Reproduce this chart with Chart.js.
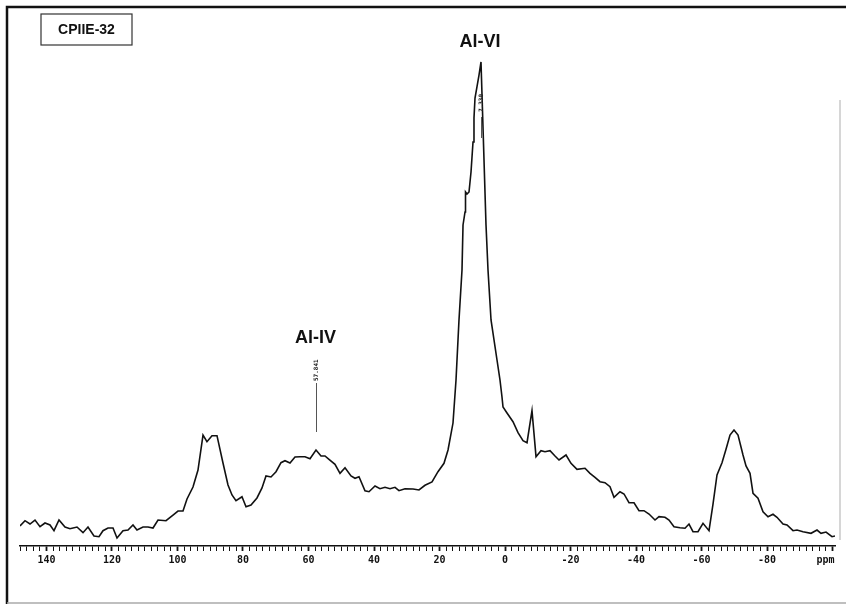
<!DOCTYPE html>
<html>
<head>
<meta charset="utf-8">
<script src="https://cdn.jsdelivr.net/npm/chart.js@4/dist/chart.umd.min.js"></script>
<style>
  html, body { margin: 0; padding: 0; background: #ffffff; }
  #wrap { width: 846px; height: 605px; position: relative; }
</style>
</head>
<body>
<div id="wrap"><canvas id="c" width="846" height="605"></canvas></div>
<script>
// Chemical shift (ppm) of each sampled point of the 27Al spectrum
const ppmValues = [
  148.09, 146.56, 145.04, 143.51, 141.98, 140.46, 138.93, 137.71, 136.18, 134.35,
  132.82, 130.69, 128.85, 127.33, 125.50, 123.97, 122.75, 121.22, 119.69, 118.47,
  116.64, 115.11, 113.59, 112.37, 110.53, 109.01, 107.48, 105.95, 103.51, 101.37,
  99.85, 98.32, 97.10, 95.27, 93.74, 92.21, 91.00, 89.47, 87.94, 86.11,
  84.58, 83.36, 82.14, 80.31, 79.08, 77.56, 75.73, 74.20, 72.98, 71.45,
  69.92, 68.40, 67.18, 65.65, 64.12, 62.60, 61.07, 59.54, 57.71, 56.18,
  54.96, 53.74, 51.91, 50.38, 48.85, 47.02, 45.80, 44.58, 42.75, 41.53,
  39.69, 38.17, 36.64, 35.11, 33.59, 32.37, 30.53, 28.09, 26.26, 24.43,
  22.29, 20.46, 18.63, 17.40, 15.88, 14.96, 14.05, 13.13, 12.82, 12.21,
  12.06, 11.60, 10.99, 10.38, 9.77, 9.47, 9.16, 8.55, 7.94, 7.33,
  5.80, 5.19, 4.27, 2.44, 1.53, 0.92, 0.61,
  -0.61, -2.44, -3.97, -5.50, -6.72, -8.24, -9.47, -10.99, -12.21, -13.74,
  -15.27, -16.49, -18.63, -20.15, -21.98, -24.43, -25.95, -27.48, -29.01, -30.53,
  -32.06, -33.28, -35.11, -36.34, -37.86, -39.39, -40.92, -42.44, -43.97, -45.80,
  -47.02, -48.85, -50.08, -51.60, -53.44, -54.96, -56.18, -57.40, -58.93, -60.46,
  -62.29, -63.51, -64.73, -66.26, -67.48, -68.70, -69.92, -71.15, -72.67, -73.59,
  -74.81, -75.73, -77.25, -78.78, -80.31, -81.83, -83.05, -84.89, -86.11, -87.94,
  -89.16, -90.99, -93.44, -95.27, -96.49, -98.02, -99.85, -100.76
];
// Signal intensity (arbitrary units) at each of those shifts
const intensityValues = [
  3.80, 4.81, 4.18, 4.94, 3.67, 4.37, 3.99, 2.91, 4.94, 3.61,
  3.29, 3.61, 2.53, 3.61, 1.90, 1.77, 2.91, 3.42, 3.42, 1.52,
  2.91, 3.04, 3.99, 3.04, 3.61, 3.61, 3.42, 4.94, 4.81, 5.89,
  6.65, 6.65, 8.94, 11.22, 14.45, 21.10, 19.83, 20.97, 20.97, 15.78,
  11.60, 9.70, 8.61, 9.37, 7.47, 7.79, 9.13, 11.03, 13.31, 13.12,
  14.13, 15.84, 16.22, 15.78, 16.92, 16.98, 16.98, 16.60, 18.25, 17.11,
  17.11, 16.48, 15.53, 13.82, 14.89, 13.31, 12.87, 13.17, 10.51, 10.32,
  11.41, 10.89, 11.16, 10.89, 11.16, 10.51, 10.89, 10.84, 10.65, 11.54,
  12.17, 14.13, 15.72, 18.25, 23.38, 31.56, 42.97, 52.47, 61.03, 63.50,
  67.30, 66.92, 67.30, 71.10, 76.81, 81.37, 85.17, 87.32, 89.54, 92.02,
  61.03, 52.47, 42.97, 35.36, 31.56, 28.33, 26.43,
  25.29, 23.63, 21.54, 20.02, 19.64, 25.72, 16.98, 18.12, 17.93, 18.12,
  17.11, 16.35, 17.30, 15.72, 14.58, 14.77, 13.82, 13.06, 12.22, 12.03,
  11.27, 9.26, 10.32, 9.89, 8.23, 8.23, 6.71, 6.71, 6.08, 4.94,
  5.57, 5.46, 4.94, 3.67, 3.48, 3.37, 4.18, 2.72, 2.72, 4.32,
  2.91, 7.98, 13.50, 15.84, 18.38, 21.10, 22.05, 21.10, 17.30, 15.21,
  13.82, 10.02, 9.07, 6.52, 5.57, 6.03, 5.46, 4.18, 3.99, 2.91,
  3.04, 2.72, 2.41, 3.04, 2.41, 2.66, 1.77, 1.90
];
// Axis and annotation texts
const axisMin = -100.76;
const axisMax = 148.09;
const majorStep = 20;
const minorStep = 2;
const axisUnit = 'ppm';
const sampleLabel = 'CPIIE-32';
const peakLabels = ['Al-VI', 'Al-IV'];
const peakLabelPpm = [7.63, 57.841];
const peakLabelHeight = [94.9, 38.6];
const markerPpm = [7.33, 57.841];
const markerTexts = ['7.330', '57.841'];

const points = ppmValues.map((x, i) => ({ x: x, y: intensityValues[i] }));

const decorPlugin = {
  id: 'decor',
  beforeDraw(chart) {
    const ctx = chart.ctx;
    ctx.save();
    ctx.fillStyle = '#ffffff';
    ctx.fillRect(0, 0, chart.width, chart.height);
    ctx.restore();
  },
  afterDraw(chart) {
    const ctx = chart.ctx;
    const xs = chart.scales.x, ys = chart.scales.y;
    ctx.save();
    // outer frame
    ctx.strokeStyle = '#111';
    ctx.lineWidth = 2.5;
    ctx.beginPath();
    ctx.moveTo(7, 604); ctx.lineTo(7, 7); ctx.lineTo(846, 7);
    ctx.stroke();
    ctx.strokeStyle = '#aaa';
    ctx.lineWidth = 1.5;
    ctx.beginPath();
    ctx.moveTo(7, 603); ctx.lineTo(846, 603);
    ctx.stroke();
    ctx.strokeStyle = '#c8c8c8';
    ctx.lineWidth = 1.5;
    ctx.beginPath();
    ctx.moveTo(840, 100); ctx.lineTo(840, 540);
    ctx.stroke();

    // sample label box
    ctx.strokeStyle = '#333';
    ctx.lineWidth = 1.2;
    ctx.strokeRect(41, 14, 91, 31);
    ctx.fillStyle = '#111';
    ctx.font = 'bold 14px "Liberation Sans", Arial, sans-serif';
    ctx.textAlign = 'center';
    ctx.textBaseline = 'middle';
    ctx.fillText(sampleLabel, 86.5, 30);

    // peak labels
    ctx.font = 'bold 18px "Liberation Sans", Arial, sans-serif';
    ctx.textBaseline = 'alphabetic';
    peakLabels.forEach((t, i) => {
      ctx.fillText(t, xs.getPixelForValue(peakLabelPpm[i]), ys.getPixelForValue(peakLabelHeight[i]));
    });

    // peak position markers
    const mk = [
      { top: 117, bot: 138, ty: 112 },
      { top: 383, bot: 432, ty: 381 }
    ];
    ctx.strokeStyle = '#555';
    ctx.lineWidth = 1;
    markerPpm.forEach((p, i) => {
      const px = Math.round(xs.getPixelForValue(p)) + 0.5;
      ctx.beginPath();
      ctx.moveTo(px, mk[i].top); ctx.lineTo(px, mk[i].bot);
      ctx.stroke();
      ctx.save();
      ctx.translate(px, mk[i].ty);
      ctx.rotate(-Math.PI / 2);
      ctx.font = 'bold 6px "DejaVu Sans Mono", monospace';
      ctx.textAlign = 'left';
      ctx.textBaseline = 'middle';
      ctx.fillStyle = '#222';
      ctx.fillText(markerTexts[i], 0, 0);
      ctx.restore();
    });

    // unit label at the right end of the axis
    ctx.font = 'bold 10px "DejaVu Sans Mono", monospace';
    ctx.textAlign = 'right';
    ctx.textBaseline = 'top';
    ctx.fillStyle = '#111';
    ctx.fillText(axisUnit, xs.getPixelForValue(-100) + 2, xs.bottom - 59 + 9);
    ctx.restore();
  }
};

new Chart(document.getElementById('c'), {
  type: 'line',
  data: {
    datasets: [{
      data: points,
      borderColor: '#111',
      borderWidth: 1.6,
      pointRadius: 0,
      tension: 0,
      fill: false
    }]
  },
  options: {
    responsive: false,
    animation: false,
    layout: { padding: { left: 20, right: 11, top: 20, bottom: 0 } },
    plugins: { legend: { display: false }, tooltip: { enabled: false } },
    scales: {
      x: {
        type: 'linear',
        reverse: true,
        min: axisMin,
        max: axisMax,
        afterFit(scale) { scale.height = 59; },
        border: { display: true, color: '#111', width: 1.5 },
        grid: {
          drawOnChartArea: false,
          drawTicks: true,
          tickLength: 5,
          tickColor: '#111',
          tickWidth: (c) => (c.tick && Math.round(c.tick.value) % majorStep === 0 ? 1.8 : 1)
        },
        ticks: {
          stepSize: minorStep,
          includeBounds: false,
          maxTicksLimit: 500,
          autoSkip: false,
          maxRotation: 0,
          padding: 3,
          color: '#111',
          font: { family: '"DejaVu Sans Mono", monospace', size: 10, weight: 'bold' },
          callback: (v) => {
            const r = Math.round(v);
            if (r % majorStep !== 0 || r === -100) return '';
            return String(r);
          }
        }
      },
      y: {
        display: false,
        min: 0,
        max: 100
      }
    }
  },
  plugins: [decorPlugin]
});
</script>
</body>
</html>
